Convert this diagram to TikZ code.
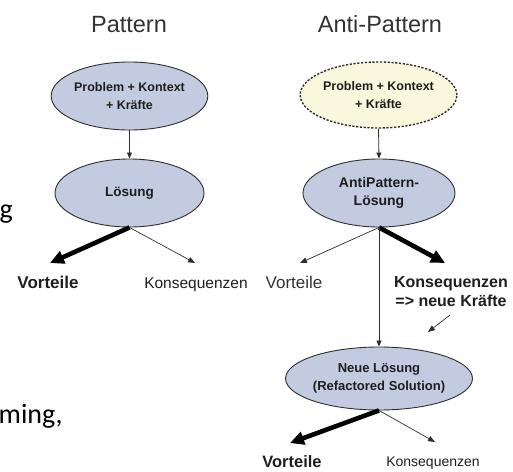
\documentclass[tikz,border=0pt]{standalone}
\usepackage{fontspec}
\setmainfont{Liberation Sans}
\newfontfamily\slidefont{Carlito}
\usetikzlibrary{shapes.geometric,arrows.meta}

\definecolor{nodeblue}{HTML}{C3CBE0}
\definecolor{nodeyellow}{HTML}{F9F7DC}
\definecolor{edgegray}{HTML}{2E2E2E}
\definecolor{titlegray}{HTML}{333333}
\definecolor{textdark}{HTML}{1E1E1E}

\newcommand\setfs[2]{\fontsize{#1}{#2}\selectfont}

\tikzset{
  x=1pt, y=-1pt,
  title/.style={anchor=base, inner sep=0pt, text=titlegray, font=\setfs{23.5pt}{28pt}},
  bubble/.style={ellipse, draw=edgegray, line width=0.9pt, fill=nodeblue,
    inner sep=0pt, align=center, text=textdark,
    font=\bfseries\setfs{12.5pt}{18pt}},
  forcebubble/.style={bubble, fill=nodeyellow, line width=1.4pt,
    dash pattern=on 2.2pt off 1.6pt},
  outcome/.style={anchor=base, inner sep=0pt, text=textdark},
  flow/.style={-{Triangle[length=6pt,width=5pt]}, line width=0.8pt, draw=edgegray},
  heavy/.style={-{Triangle[length=14pt,width=13pt]}, line width=4.6pt, draw=black},
  light/.style={-{Triangle[length=7pt,width=5.5pt]}, line width=0.7pt, draw=edgegray},
}

\begin{document}
\begin{tikzpicture}
\useasboundingbox (0,0) rectangle (513,471);

% fragments of the surrounding slide text
\node[anchor=base west, inner sep=0pt, font=\slidefont\setfs{28pt}{32pt}] (sg) at (-0.5,218) {g};
\node[anchor=base west, inner sep=0pt, font=\slidefont\setfs{28pt}{32pt}] (sm) at (-1.5,423) {ming,};

% column headings
\node[title] (tp) at (129,32) {Pattern};
\node[title] (ta) at (380,32) {Anti-Pattern};

% pattern column
\node[bubble, minimum width=149pt, minimum height=68pt] (p1) at (129.5,96)
  {Problem + Kontext\\+ Kräfte};
\node[bubble, minimum width=149pt, minimum height=68pt, font=\bfseries\setfs{13.5pt}{18pt}] (p2) at (129.5,193)
  {Lösung};
\coordinate (p2v) at (50,263);
\coordinate (p2k) at (195,263);
\node[outcome, font=\bfseries\setfs{17pt}{20pt}] (pv) at (48,288) {Vorteile};
\node[outcome, font=\setfs{15.5pt}{18pt}] (pk) at (196,288) {Konsequenzen};

\draw[flow] (p1.south) -- (p2.north);
\draw[heavy] (p2.south) -- (p2v);
\draw[light] (p2.south) -- (p2k);

% anti-pattern column
\node[forcebubble, minimum width=152pt, minimum height=66pt] (a1) at (378.5,95)
  {Problem + Kontext\\+ Kräfte};
\node[bubble, minimum width=152pt, minimum height=68pt, font=\bfseries\setfs{14pt}{18pt}] (a2) at (379,193)
  {AntiPattern-\\Lösung};
\coordinate (a2v) at (300,263);
\coordinate (a2k) at (445,263);
\node[outcome, text=titlegray, font=\setfs{17pt}{20pt}] (av) at (294,288) {Vorteile};
\node[anchor=base, inner sep=0pt, align=center, text=textdark,
      font=\bfseries\setfs{16pt}{18.5pt}] (ak) at (451,306)
  {Konsequenzen\\=> neue Kräfte};
\coordinate (fs) at (450,315);
\coordinate (fe) at (428,332);

\node[bubble, minimum width=153pt, minimum height=63pt, font=\bfseries\setfs{13pt}{18pt}] (a3) at (379,378.5)
  {Neue Lösung\\(Refactored Solution)};
\coordinate (a3v) at (290,443);
\coordinate (a3k) at (435,442);
\node[outcome, font=\bfseries\setfs{16.5pt}{20pt}] (bv) at (292,467) {Vorteile};
\node[outcome, font=\setfs{14pt}{18pt}] (bk) at (433,466) {Konsequenzen};

\draw[flow] (a1.south) -- (a2.north);
\draw[light] (a2.south) -- (a2v);
\draw[heavy] (a2.south) -- (a2k);
\draw[flow] (a2.south) -- (a3.north);
\draw[light] (fs) -- (fe);
\draw[heavy] (a3.south) -- (a3v);
\draw[light] (a3.south) -- (a3k);
\end{tikzpicture}
\end{document}
